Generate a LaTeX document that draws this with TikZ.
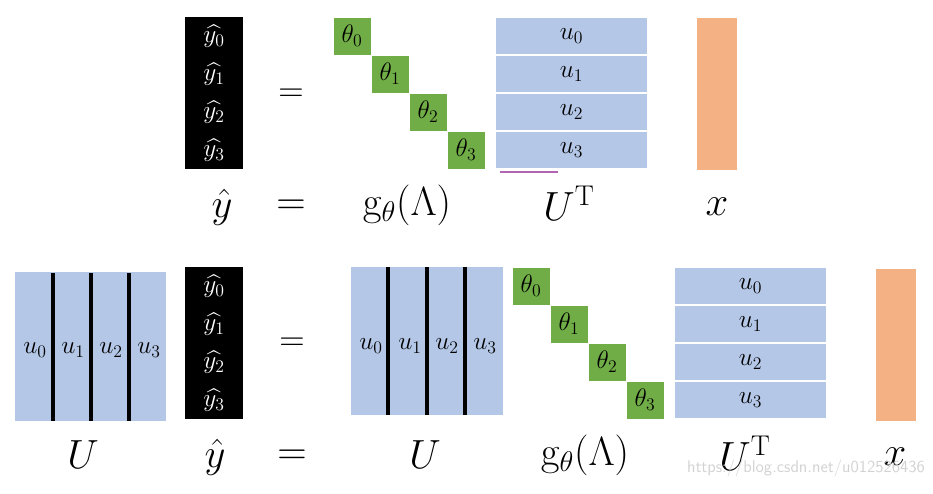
\RequirePackage{fix-cm}
\documentclass[tikz,border=0pt]{standalone}
\usepackage{amsmath}
\usepackage{tikz}
\usetikzlibrary{positioning}
\definecolor{ublue}{HTML}{B4C7E7}
\definecolor{thgreen}{HTML}{70AD47}
\definecolor{xorange}{HTML}{F4B183}

\begin{document}
\begin{tikzpicture}[x=0.025cm, y=-0.025cm,
  ycol/.style={fill=black, minimum width=1.45cm, minimum height=3.8cm, inner sep=0pt},
  yent/.style={text=white, font=\fontsize{18}{20}\selectfont, inner sep=0pt},
  thbox/.style={fill=thgreen, draw=white, line width=0.4pt, minimum size=0.95cm,
    inner sep=0pt, font=\fontsize{18}{20}\selectfont},
  urow/.style={fill=ublue, draw=white, line width=1pt, minimum width=3.8cm,
    minimum height=0.95cm, inner sep=0pt, font=\fontsize{18}{20}\selectfont},
  ucol/.style={fill=ublue, minimum width=3.775cm, minimum height=3.7cm, inner sep=0pt},
  ulab/.style={font=\fontsize{18}{20}\selectfont, inner sep=0pt},
  xcol/.style={fill=xorange, minimum width=1cm, minimum height=3.8cm, inner sep=0pt},
  lab/.style={font=\fontsize{29}{31}\selectfont, inner sep=0pt},
  eq/.style={font=\fontsize{25}{27}\selectfont, inner sep=0pt},
  sepline/.style={line width=2.4pt, black},
]
\useasboundingbox (0,0) rectangle (933,493);

%% Top row: yhat = g(Lambda) U^T x
\node[ycol] (ycA) at (214,93) {};
\foreach \i in {0,...,3} {
  \node[yent] (yA\i) at (214,36+38*\i) {$\widehat{y_\i}$};
}
\node[eq] (eqA) at (291,95) {$=$};
\foreach \i in {0,...,3} {
  \node[thbox] (thA\i) at (352+38*\i,36+38*\i) {$\theta_\i$};
}
\foreach \i in {0,...,3} {
  \node[urow] (utA\i) at (571.5,36+38*\i) {$u_\i$};
}
\draw[violet!60, line width=0.8pt] (500,172) -- (558,172);
\node[xcol] (xA) at (717,94) {};

%% Top labels
\node[lab] (lyA) at (222,207) {$\hat{y}$};
\node[lab] (leqA) at (291,207) {$=$};
\node[lab] (lgA) at (407,205) {$\mathrm{g}_\theta(\Lambda)$};
\node[lab] (lutA) at (569,203) {$U^{\mathrm{T}}$};
\node[lab] (lxA) at (717,207) {$x$};

%% Bottom row: U yhat = U g(Lambda) U^T x
\node[ucol] (uB) at (90.5,346.5) {};
\foreach \xx in {53,91,129} {
  \draw[sepline] (\xx,273) -- (\xx,421);
}
\foreach \i/\xx in {0/35,1/73,2/111,3/149} {
  \node[ulab] (uB\i) at (\xx,350) {$u_\i$};
}
\node[ycol] (ycB) at (214,343) {};
\foreach \i in {0,...,3} {
  \node[yent] (yB\i) at (214,286+38*\i) {$\widehat{y_\i}$};
}
\node[eq] (eqB) at (292,344) {$=$};
\node[ucol] (uC) at (427,341) {};
\foreach \xx in {388,427,465} {
  \draw[sepline] (\xx,267) -- (\xx,415);
}
\foreach \i/\xx in {0/371,1/410,2/447,3/485} {
  \node[ulab] (uC\i) at (\xx,346) {$u_\i$};
}
\foreach \i in {0,...,3} {
  \node[thbox] (thB\i) at (531+38*\i,286+38*\i) {$\theta_\i$};
}
\foreach \i in {0,...,3} {
  \node[urow] (utB\i) at (750.5,286+38*\i) {$u_\i$};
}
\node[xcol] (xB) at (896,345) {};

%% Bottom labels
\node[lab] (luB) at (83,455) {$U$};
\node[lab] (lyB) at (215,457) {$\hat{y}$};
\node[lab] (leqB) at (292,457) {$=$};
\node[lab] (luC) at (425,455) {$U$};
\node[lab] (lgB) at (585,455) {$\mathrm{g}_\theta(\Lambda)$};
\node[lab] (lutB) at (745,453) {$U^{\mathrm{T}}$};
\node[lab] (lxB) at (895,457) {$x$};

\node[font=\sffamily\fontsize{12}{14}\selectfont, text=gray!35] (wm) at (806,468)
  {https://blog.csdn.net/u012526436};
\end{tikzpicture}
\end{document}
